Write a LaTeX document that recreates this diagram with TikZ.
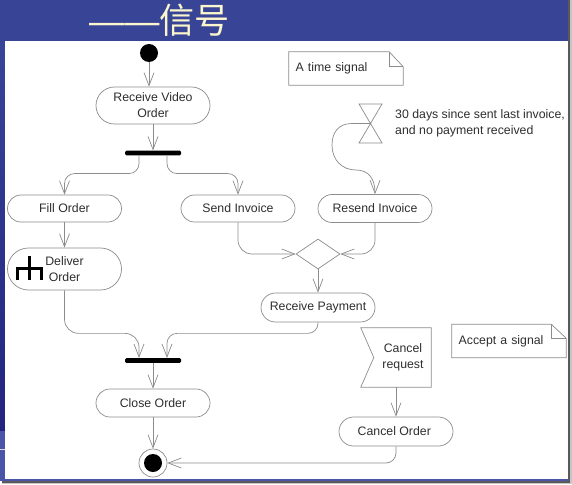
\documentclass[tikz,border=0pt]{standalone}
\usepackage{fontspec}
\setmainfont{Liberation Sans}
\newfontfamily\cjk{Noto Sans CJK SC}
\usepackage{xcolor}
\usetikzlibrary{arrows.meta, positioning, calc, shapes.misc, shapes.geometric}
\definecolor{slideblue}{HTML}{384597}
\definecolor{slidedark}{HTML}{23247E}
\definecolor{slidelight}{HTML}{4B55A8}
\definecolor{titlecream}{HTML}{FBF6CC}
\definecolor{linegray}{HTML}{8C8C8C}
\definecolor{inkgray}{HTML}{2E2E2E}

\begin{document}
\begin{tikzpicture}[
    x=0.03cm, y=-0.03cm,
    activity/.style={draw=linegray, rounded rectangle, minimum width=3.42cm, inner sep=0pt, align=center, font=\fontsize{10.5}{13.5}\selectfont, text=inkgray, line width=0.6pt},
    flow/.style={draw=linegray, line width=0.6pt, -{Straight Barb[length=0.39cm,width=0.3cm]}},
    bar/.style={fill=black, rounded corners=0.04cm, minimum width=1.68cm, minimum height=0.14cm, inner sep=0pt},
    notebox/.style={minimum width=3.42cm, minimum height=0.99cm, text width=3.02cm, inner xsep=0.2cm, inner ysep=0pt, align=left, font=\fontsize{10.5}{13.5}\selectfont, text=inkgray},
    plain/.style={align=left, inner sep=0pt, font=\fontsize{10.5}{13.5}\selectfont, text=inkgray},
    outline/.style={draw=linegray, line width=0.6pt},
]
\useasboundingbox (0,0) rectangle (572,484);
% Slide behind the diagram
\fill[white] (0,0) rectangle (572,484);
\fill[slideblue] (0,0) rectangle (568,41);
\shade[top color=slideblue, bottom color=slidedark] (0,41) rectangle (4.5,431);
\fill[slidelight] (0,431) rectangle (4.5,480);
\fill[white!80!slidelight] (0,449) rectangle (4.5,450);
\fill[slidelight] (0,479) rectangle (568,481);
\fill[gray!45] (570,0) rectangle (572,484);
\fill[gray!45] (2,483) rectangle (572,484);
\fill[gray!70!black] (568,0) rectangle (570,483);
\fill[gray!70!black] (2,481) rectangle (570,483);
\node[font=\fontsize{30}{32}\selectfont, text=titlecream, inner sep=0pt] (title) at (159.5,20) {——{\cjk 信号}};

% Activities
\foreach \nm/\x/\y/\h/\txt in {
    rvo/153/105.5/1.11/{Receive Video\\Order},
    fillorder/64.5/208.5/0.81/{Fill Order},
    sendinv/238/208.5/0.81/{Send Invoice},
    resendinv/375/208.5/0.84/{Resend Invoice},
    deliver/64.5/269/1.26/{Deliver\\Order},
    payment/318/307.5/0.87/{Receive Payment},
    closeorder/153/403/0.84/{Close Order},
    cancelorder/396/431.5/0.87/{Cancel Order}
} {
    \node[activity, minimum height=\h cm] (\nm) at (\x,\y) {\txt};
}

% Start, bars, decision, end
\node[circle, fill=black, minimum size=0.54cm, inner sep=0pt] (start) at (149,53) {};
\node[bar] (forkA) at (153,153) {};
\node[bar] (forkB) at (153,360.5) {};
\node[diamond, outline, minimum width=1.32cm, minimum height=0.9cm, inner sep=0pt] (decision) at (318,254) {};
\node[circle, outline, minimum size=0.84cm, inner sep=0pt] (finish) at (153,463) {};
\node[circle, fill=black, minimum size=0.54cm, inner sep=0pt] (finishdot) at (finish) {};

% Notes
\foreach \nm/\x/\y/\fx/\fy/\txt in {
    timenote/346/68.5/14/15/{A time signal},
    acceptnote/509/341/15/14/{Accept a signal}
} {
    \node[notebox] (\nm) at (\x,\y) {\txt};
    \draw[outline] (\nm.north west) -- ($(\nm.north east)+(-\fx,0)$) -- ($(\nm.north east)+(0,\fy)$) -- (\nm.south east) -- (\nm.south west) -- cycle;
    \draw[outline] ($(\nm.north east)+(-\fx,0)$) -- ($(\nm.north east)+(-\fx,\fy)$) -- ($(\nm.north east)+(0,\fy)$);
}

% Time signal
\coordinate (timer) at (370.5,123.5);
\draw[outline] (timer) ++(-11.5,-19.5) -- ++(23,0) -- ++(-23,39) -- ++(23,0) -- cycle;
\node[plain, anchor=west] (timertxt) at (395,123) {30 days since sent last invoice,\\and no payment received};
\draw[flow] (timer) -- (352,123.5) .. controls (338,123.5) and (332,133) .. (332,145) .. controls (332,160) and (342,170) .. (356,170) .. controls (368,170) and (375,178) .. (resendinv.north);

% Accept signal
\node[minimum width=2.1cm, minimum height=1.77cm, inner sep=0pt] (cancelreq) at (396,357.5) {};
\node[plain, align=center] (canceltxt) at (403,357) {Cancel\\request};
\draw[outline] (cancelreq.north west) -- (cancelreq.north east) -- (cancelreq.south east) -- (cancelreq.south west) -- ($(cancelreq.west)+(13,0)$) -- cycle;

% Straight connectors
\foreach \a/\b in {start/rvo, rvo/forkA, fillorder/deliver, decision/payment, forkB/closeorder, closeorder/finish, cancelreq/cancelorder} {
    \draw[flow] (\a.south) -- (\a.south |- \b.north);
}

% Bent connectors
\draw[flow, rounded corners=0.3cm] ($(forkA.south)+(-14,0)$) -- ++(0,18) -| (fillorder.north);
\draw[flow, rounded corners=0.3cm] ($(forkA.south)+(14,0)$) -- ++(0,18) -| (sendinv.north);
\draw[flow, rounded corners=0.42cm] (sendinv.south) |- (decision.west);
\draw[flow, rounded corners=0.42cm] (resendinv.south) |- (decision.east);
\draw[flow, rounded corners=0.42cm] (deliver.south) -- ++(0,43) -| ($(forkB.north)+(-14,0)$);
\draw[flow, rounded corners=0.3cm] (payment.south) -- ++(0,11) -| ($(forkB.north)+(14,0)$);
\draw[flow, rounded corners=0.3cm] (cancelorder.south) |- (finish.east);

% Send signal icon
\draw[line width=0.09cm] (29,256) -- (29,280) (17.5,280) -- (17.5,268) -- (41,268) -- (41,280);
\end{tikzpicture}
\end{document}
